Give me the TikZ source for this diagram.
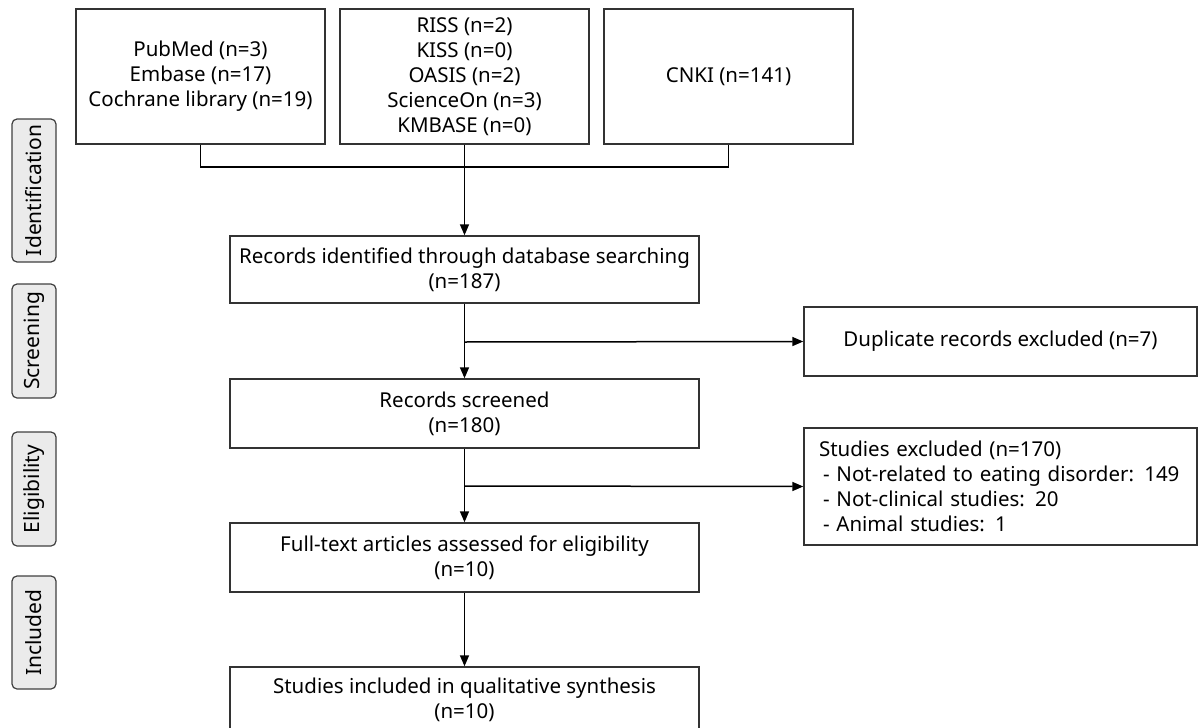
\documentclass[tikz,border=0pt]{standalone}
\usepackage{fontspec}
\setmainfont{Noto Sans}
\usetikzlibrary{arrows.meta}
\begin{document}
\begin{tikzpicture}[x=1pt,y=-1pt,
  box/.style={draw=black!80, line width=1.4pt, align=center, inner sep=0pt,
    font=\fontsize{20.5}{25}\selectfont},
  side/.style={draw=black!75, line width=1.2pt, fill=black!8, rounded corners=5pt,
    rotate=90, inner sep=0pt, minimum height=44, font=\fontsize{21}{24}\selectfont},
  conn/.style={draw=black, line width=1.5pt},
  arr/.style={conn, -{Triangle[length=11pt,width=9pt]}}]
\useasboundingbox (0,0) rectangle (1200,728);
% side labels
\node[side, minimum width=143] (sid) at (34,190.5) {Identification};
\node[side, minimum width=114] (sscr) at (34,341) {Screening};
\node[side, minimum width=114] (self) at (34,489) {Eligibility};
\node[side, minimum width=113] (sinc) at (34,632.5) {Included};
% databases
\node[box, minimum width=249, minimum height=135] (db1) at (200.5,76.5)
  {PubMed (n=3)\\Embase (n=17)\\Cochrane library (n=19)};
\node[box, minimum width=249, minimum height=135] (db2) at (464.5,76.5)
  {RISS (n=2)\\KISS (n=0)\\OASIS (n=2)\\ScienceOn (n=3)\\KMBASE (n=0)};
\node[box, minimum width=249, minimum height=135] (db3) at (728.5,76.5)
  {CNKI (n=141)};
% main flow
\node[box, minimum width=469, minimum height=67] (rec) at (464.5,269.5)
  {Records identified through database searching\\(n=187)};
\node[box, minimum width=469, minimum height=69] (scr) at (464.5,413.5)
  {Records screened\\(n=180)};
\node[box, minimum width=469, minimum height=69] (full) at (464.5,557.5)
  {Full-text articles assessed for eligibility\\(n=10)};
\node[box, minimum width=469, minimum height=66] (inc) at (464.5,700)
  {Studies included in qualitative synthesis\\(n=10)};
% exclusions
\node[box, minimum width=393, minimum height=69] (dup) at (1000.5,341.5)
  {Duplicate records excluded (n=7)};
\node[box, minimum width=393, minimum height=117, text width=363, inner xsep=15pt,
  align=left] (exc) at (1000.5,486.5)
  {Studies excluded (n=170)\\
   \hspace*{4pt}- Not-related to eating disorder: 149\\
   \hspace*{4pt}- Not-clinical studies: 20\\
   \hspace*{4pt}- Animal studies: 1};
% connectors
\coordinate (br) at (464.5,167);
\coordinate (j1) at (464.5,342);
\coordinate (j2) at (464.5,486);
\draw[conn] (db1.south) |- (br) -| (db3.south);
\draw[arr] (db2.south) -- (rec.north);
\draw[arr] (rec.south) -- (scr.north);
\draw[arr] (j1) -- (dup.west);
\draw[arr] (scr.south) -- (full.north);
\draw[arr] (j2) -- (exc.west);
\draw[arr] (full.south) -- (inc.north);
\end{tikzpicture}
\end{document}
